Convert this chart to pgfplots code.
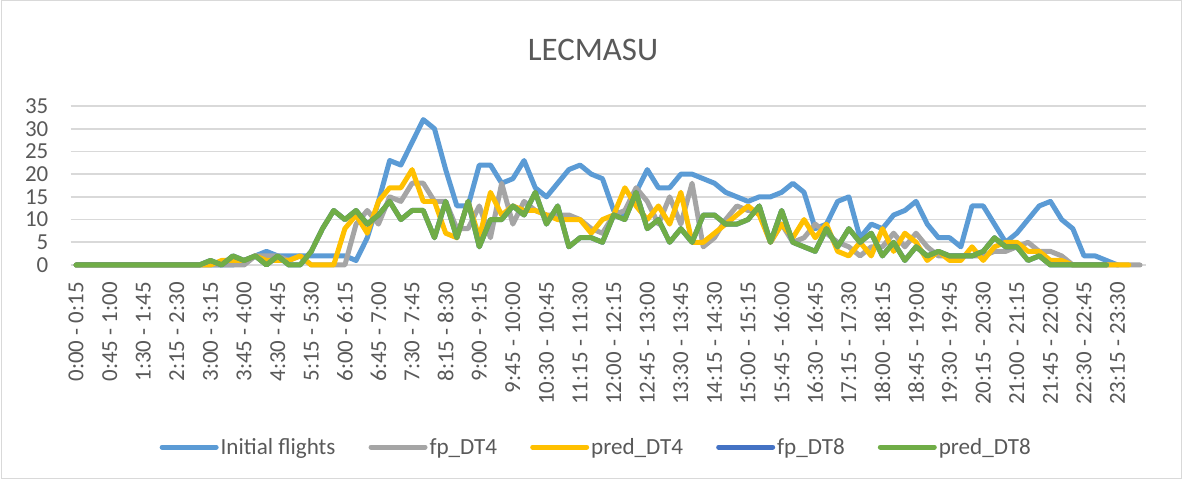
\documentclass[border=0pt]{standalone}
\usepackage{pgfplots}
\pgfplotsset{compat=1.18}
\usepackage{pgfplotstable}
\usepackage{fontspec}
\setmainfont{Carlito}
\definecolor{cInit}{HTML}{5B9BD5}
\definecolor{cFp4}{HTML}{A5A5A5}
\definecolor{cPred4}{HTML}{FFC000}
\definecolor{cFp8}{HTML}{4472C4}
\definecolor{cPred8}{HTML}{70AD47}
\definecolor{cGrid}{HTML}{D9D9D9}
\definecolor{cText}{HTML}{595959}
\pgfplotstableread{
i init fp4 pred4 fp8 pred8
0 0 0 0 0 0
1 0 0 0 0 0
2 0 0 0 0 0
3 0 0 0 0 0
4 0 0 0 0 0
5 0 0 0 0 0
6 0 0 0 0 0
7 0 0 0 0 0
8 0 0 0 0 0
9 0 0 0 0 0
10 0 0 0 0 0
11 0 0 0 0 0
12 0 0 0 1 1
13 0 0 1 0 0
14 0 0 1 2 2
15 1 0 1 1 1
16 2 2 2 2 2
17 3 2 1 0 0
18 2 2 1 2 2
19 2 1 1 0 0
20 2 2 2 0 0
21 2 0 0 3 3
22 2 0 0 8 8
23 2 0 0 12 12
24 2 0 8 10 10
25 1 9 11 12 12
26 6 12 7 9 9
27 14 9 14 11 11
28 23 15 17 14 14
29 22 14 17 10 10
30 27 18 21 12 12
31 32 18 14 12 12
32 30 14 14 6 6
33 21 14 7 14 14
34 13 8 6 6 6
35 13 8 14 14 14
36 22 13 6 4 4
37 22 6 16 10 10
38 18 18 11 10 10
39 19 9 13 13 13
40 23 14 12 11 11
41 17 12 12 16 16
42 15 11 11 9 9
43 18 11 10 13 13
44 21 11 10 4 4
45 22 10 10 6 6
46 20 8 7 6 6
47 19 7 10 5 5
48 12 11 11 11 11
49 11 12 17 10 10
50 16 17 13 16 16
51 21 14 10 8 8
52 17 9 13 10 10
53 17 15 9 5 5
54 20 9 16 8 8
55 20 18 5 5 5
56 19 4 5 11 11
57 18 6 7 11 11
58 16 10 9 9 9
59 15 13 11 9 9
60 14 12 13 10 10
61 15 12 11 13 13
62 15 5 5 5 5
63 16 9 9 12 12
64 18 5 6 5 5
65 16 6 10 4 4
66 8 9 6 3 3
67 9 7 9 8 8
68 14 5 3 4 4
69 15 4 2 8 8
70 6 2 5 5 5
71 9 4 2 7 7
72 8 4 8 2 2
73 11 7 3 5 5
74 12 4 7 1 1
75 14 7 5 4 4
76 9 4 1 2 2
77 6 2 3 3 3
78 6 2 1 2 2
79 4 2 1 2 2
80 13 2 4 2 2
81 13 2 1 3 3
82 9 3 4 6 6
83 5 3 5 4 4
84 7 4 5 4 4
85 10 5 3 1 1
86 13 3 3 2 2
87 14 3 1 0 0
88 10 2 1 0 0
89 8 0 0 0 0
90 2 0 0 0 0
91 2 0 0 0 0
92 1 0 0 0 0
93 0 0 0 nan nan
94 nan 0 0 nan nan
95 nan 0 nan nan nan
}\data
\begin{document}
\begin{tikzpicture}
\useasboundingbox (0,0) rectangle (1186bp,483bp);
\draw[color=cGrid, line width=1bp] (1bp,4bp) rectangle (1181bp,482bp);
\node[font=\fontsize{33}{40}\selectfont, text=cText] at (593bp,433bp) {LECMASU};
\begin{axis}[
  at={(70.5bp,218bp)}, anchor=south west,
  scale only axis, width=1075.2bp, height=159bp,
  xmin=-0.5, xmax=95.5, ymin=0, ymax=35,
  ytick={0,5,...,35},
  xtick={0,3,...,93},
  xticklabels={0:00 - 0:15, 0:45 - 1:00, 1:30 - 1:45, 2:15 - 2:30, 3:00 - 3:15, 3:45 - 4:00, 4:30 - 4:45, 5:15 - 5:30, 6:00 - 6:15, 6:45 - 7:00, 7:30 - 7:45, 8:15 - 8:30, 9:00 - 9:15, 9:45 - 10:00, 10:30 - 10:45, 11:15 - 11:30, 12:00 - 12:15, 12:45 - 13:00, 13:30 - 13:45, 14:15 - 14:30, 15:00 - 15:15, 15:45 - 16:00, 16:30 - 16:45, 17:15 - 17:30, 18:00 - 18:15, 18:45 - 19:00, 19:30 - 19:45, 20:15 - 20:30, 21:00 - 21:15, 21:45 - 22:00, 22:30 - 22:45, 23:15 - 23:30},
  ymajorgrids, grid style={color=cGrid, line width=1.6bp},
  axis x line*=bottom, axis y line*=left,
  x axis line style={color=cGrid, line width=1.6bp, -},
  y axis line style={draw=none},
  tick style={draw=none},
  major tick length=0pt,
  tick label style={font=\fontsize{23}{27}\selectfont, text=cText},
  xticklabel style={rotate=90, anchor=east, inner sep=0pt},
  yticklabel style={anchor=east, inner sep=0pt},
  xticklabel shift=17bp, yticklabel shift=22bp,
  /pgf/number format/assume math mode=true,
  unbounded coords=jump,
  legend columns=5,
  legend style={at={(0.489,-1.145)}, anchor=center, draw=none, fill=none,
    font=\fontsize{23.2}{28}\selectfont, text=cText,
    /tikz/every even column/.append style={column sep=31bp},
    inner sep=0pt, nodes={inner sep=2bp}},
  legend image code/.code={\draw[#1] (0bp,0bp) -- (54bp,0bp);},
  every axis plot/.append style={line width=5bp, line join=round, line cap=round, mark=none},
  clip=false,
]
\addplot[color=cInit] table[x=i, y=init] {\data};
\addlegendentry{Initial flights}
\addplot[color=cFp4] table[x=i, y=fp4] {\data};
\addlegendentry{fp\_DT4}
\addplot[color=cPred4] table[x=i, y=pred4] {\data};
\addlegendentry{pred\_DT4}
\addplot[color=cFp8] table[x=i, y=fp8] {\data};
\addlegendentry{fp\_DT8}
\addplot[color=cPred8] table[x=i, y=pred8] {\data};
\addlegendentry{pred\_DT8}
\end{axis}
\end{tikzpicture}
\end{document}
